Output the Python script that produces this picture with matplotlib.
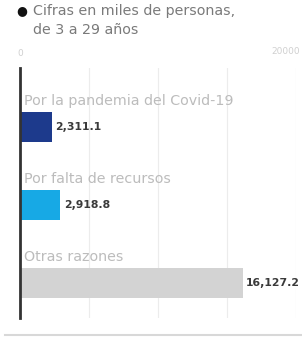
import matplotlib.pyplot as plt
from matplotlib.lines import Line2D

categories = ["Por la pandemia del Covid-19", "Por falta de recursos", "Otras razones"]
values = [2311.1, 2918.8, 16127.2]
value_labels = ["2,311.1", "2,918.8", "16,127.2"]
colors = ["#1d3a8c", "#17a9e5", "#d3d3d3"]
x_ticks = [0, 5000, 10000, 15000, 20000]

fig = plt.figure(figsize=(3.02, 3.38), dpi=100)
W, H = 302, 338
ax = fig.add_axes([20 / W, (H - 318) / H, 276 / W, 250 / H])

pos = list(range(len(categories)))
ax.barh(pos, values, height=0.385, color=colors, zorder=2)
ax.set_xlim(0, 20000)
ax.set_ylim(2.45, -0.755)

for i, (v, lab, cat) in enumerate(zip(values, value_labels, categories)):
    ax.text(v + 250, i, lab, va="center", ha="left", fontsize=7.8, fontweight="bold", color="#3a3a3a")
    ax.text(300, i - 0.33, cat, va="center", ha="left", fontsize=10.3, color="#bcbcbc")

ax.set_xticks(x_ticks)
ax.set_yticks([])
ax.tick_params(axis="x", length=0, labelbottom=False)
ax.grid(axis="x", color="#ececec", linewidth=0.8, zorder=0)
for s in ["top", "right", "bottom"]:
    ax.spines[s].set_visible(False)
ax.spines["left"].set_color("#333333")
ax.spines["left"].set_linewidth(2)
ax.spines["left"].set_zorder(3)

# etiquetas del eje arriba
fig.text(20 / W, 1 - 53 / H, "0", ha="center", va="center", fontsize=6.5, color="#d0d0d0")
fig.text(300 / W, 1 - 52 / H, "20000", ha="right", va="center", fontsize=6.5, color="#d0d0d0")

# encabezado
fig.text(16 / W, 1 - 11 / H, "●", ha="left", va="center", fontsize=9, color="#111111")
fig.text(33 / W, 1 - 11 / H, "Cifras en miles de personas,", ha="left", va="center", fontsize=10.3, color="#7a7a7a")
fig.text(33 / W, 1 - 30 / H, "de 3 a 29 años", ha="left", va="center", fontsize=10.3, color="#7a7a7a")

# línea inferior
fig.add_artist(Line2D([5 / W, 1], [1 - 335 / H, 1 - 335 / H], color="#d8d8d8", linewidth=1.5))

fig.savefig("out.png", dpi=100)
